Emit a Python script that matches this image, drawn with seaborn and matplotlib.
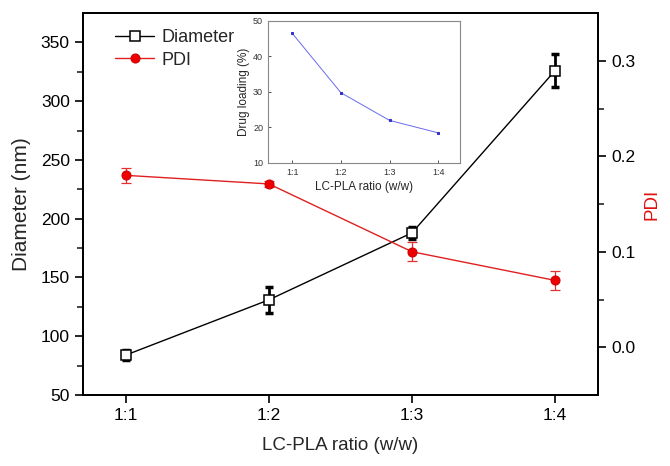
import numpy as np
import matplotlib
matplotlib.use("Agg")
import matplotlib.pyplot as plt
import seaborn as sns
import pandas as pd

# data
ratios = ["1:1", "1:2", "1:3", "1:4"]
diameter = [84, 131, 188, 326]
diameter_err = [4, 11, 5, 14]
pdi = [0.180, 0.171, 0.100, 0.070]
pdi_err = [0.008, 0.003, 0.010, 0.010]
drug_loading = [46.5, 29.8, 22.0, 18.5]

sns.set_theme(style="ticks")
plt.rcParams['font.family'] = ['Liberation Sans', 'DejaVu Sans']

xpos = np.arange(1, len(ratios) + 1)
df = pd.DataFrame({"x": xpos, "diameter": diameter, "pdi": pdi, "dl": drug_loading})

fig = plt.figure(figsize=(6.7, 4.66), dpi=100)
ax = fig.add_axes([83/670, 71/466, 515/670, 382/466])

# Diameter (left axis)
ax.errorbar(xpos, diameter, yerr=diameter_err, fmt='none', ecolor='black',
            elinewidth=2, capsize=3, capthick=2.5, zorder=3)
sns.lineplot(data=df, x="x", y="diameter", ax=ax, color='black', lw=1,
             marker='s', markersize=7.5, markerfacecolor='white',
             markeredgecolor='black', markeredgewidth=1.1, label='Diameter', zorder=4)
ax.set_xlim(0.7, 4.3)
ax.set_ylim(50, 375)
ax.set_xticks(xpos)
ax.set_xticklabels(ratios)
ax.set_yticks(np.arange(50, 351, 50))
ax.set_yticks(np.arange(75, 351, 50), minor=True)
ax.set_xlabel("LC-PLA ratio (w/w)", fontsize=13.5, labelpad=10)
ax.set_ylabel("Diameter (nm)", fontsize=15, labelpad=7)
ax.tick_params(axis='both', labelsize=12.5, direction='out', length=6, width=1.2, colors='black')
ax.tick_params(axis='y', which='minor', length=4, width=1.2)
ax.tick_params(top=False)
for s in ax.spines.values():
    s.set_linewidth(1.3)
    s.set_color('black')
    s.set_visible(True)

# PDI (right axis)
ax2 = ax.twinx()
ax2.errorbar(xpos, pdi, yerr=pdi_err, fmt='none', ecolor='#e03030',
             elinewidth=0.9, capsize=3.5, capthick=0.9, zorder=3)
sns.lineplot(data=df, x="x", y="pdi", ax=ax2, color='#e02020', lw=1,
             marker='o', markersize=6.5, markerfacecolor='#ee0000',
             markeredgecolor='#cc0000', label='PDI', zorder=4)
ax2.set_ylim(-0.05, 0.35)
ax2.set_yticks([0.0, 0.1, 0.2, 0.3])
ax2.set_yticks([0.05, 0.15, 0.25], minor=True)
ax2.set_yticklabels(["0.0", "0.1", "0.2", "0.3"])
ax2.set_ylabel("PDI", fontsize=13.5, color='#e01010', labelpad=6)
ax2.set_xlabel("")
ax2.tick_params(axis='y', labelsize=12.5, direction='out', length=6, width=1.2, colors='black')
ax2.tick_params(axis='y', which='minor', length=4, width=1.2)
for s in ax2.spines.values():
    s.set_linewidth(1.3)
    s.set_color('black')

# combined legend
h1, l1 = ax.get_legend_handles_labels()
h2, l2 = ax2.get_legend_handles_labels()
ax.get_legend().remove()
ax2.get_legend().remove()
ax2.legend(h1 + h2, l1 + l2, loc='upper left', bbox_to_anchor=(0.03, 1.0),
           frameon=False, fontsize=13, handlelength=2.2, handletextpad=0.4,
           labelspacing=0.3)

# inset: drug loading
axi = fig.add_axes([268/670, (466-163)/466, 192/670, 142/466])
sns.lineplot(data=df, x="x", y="dl", ax=axi, color='#6a6aee', lw=0.7,
             marker='s', markersize=2, markeredgecolor='#3333cc',
             markerfacecolor='#3333cc')
axi.set_xlim(0.5, 4.45)
axi.set_ylim(10, 50)
axi.set_xticks(xpos)
axi.set_xticklabels(ratios)
axi.set_yticks([10, 20, 30, 40, 50])
axi.set_xlabel("LC-PLA ratio (w/w)", fontsize=8.5, labelpad=3)
axi.set_ylabel("Drug loading (%)", fontsize=8.5, labelpad=2)
axi.tick_params(axis='both', labelsize=6.5, direction='in', length=2, width=0.6,
                colors='#333333', top=False, right=False)
for s in axi.spines.values():
    s.set_visible(True)
    s.set_linewidth(0.8)
    s.set_color('#888888')

fig.savefig("out.png", dpi=100)
